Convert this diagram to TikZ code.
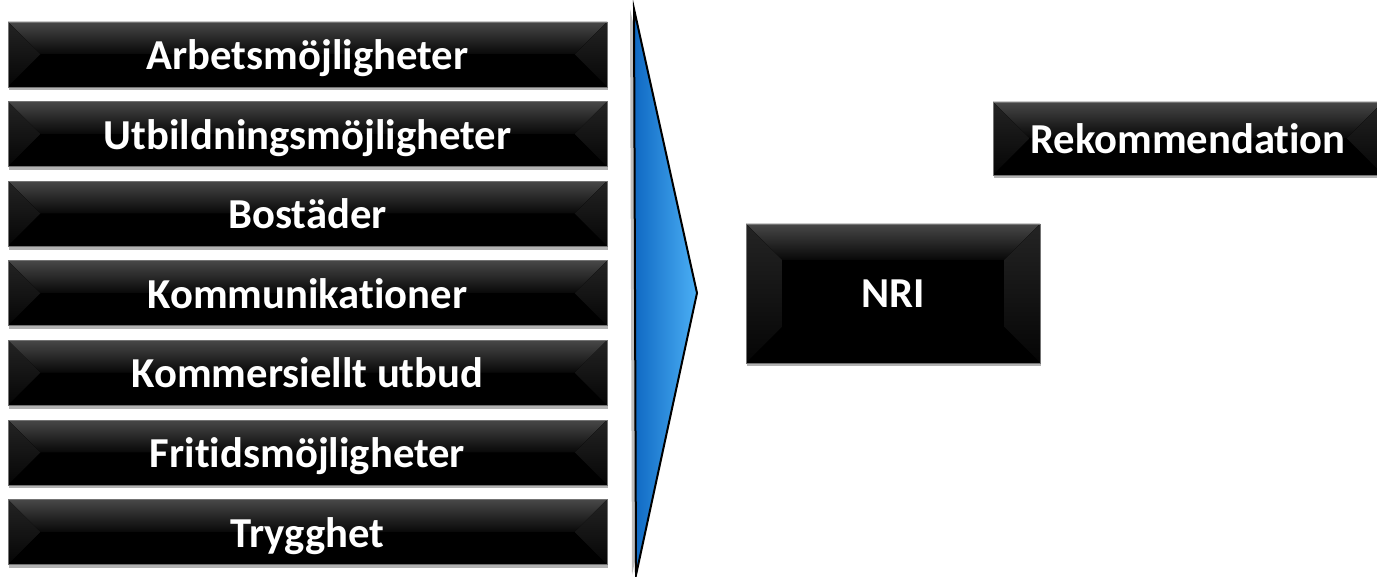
\documentclass[tikz,border=0pt]{standalone}
\usepackage{fontspec}
\setmainfont[Ligatures=NoCommon]{Carlito}
\usetikzlibrary{shadows}
\definecolor{chevdark}{RGB}{15,105,195}
\definecolor{chevlight}{RGB}{75,175,245}
\tikzset{
  bevelbox/.style n args={3}{
    rectangle, draw=black!55, line width=0.6pt, fill=black,
    minimum width=#1*0.75pt, minimum height=#2*0.75pt, inner sep=0pt,
    text depth=0pt,
    text=white, font=\bfseries\fontsize{32}{36}\selectfont,
    drop shadow={shadow xshift=0.8pt, shadow yshift=-2.5pt, opacity=0.3, fill=black},
    path picture={
      \path (path picture bounding box.north west) coordinate (pA)
            (path picture bounding box.north east) coordinate (pB)
            (path picture bounding box.south east) coordinate (pC)
            (path picture bounding box.south west) coordinate (pD);
      \fill[top color=black!72, bottom color=black!97]
        (pA) -- (pB) -- ([xshift=-#3*0.75pt,yshift=-#3*0.75pt]pB)
        -- ([xshift=#3*0.75pt,yshift=-#3*0.75pt]pA) -- cycle;
      \fill[top color=black!86, bottom color=black!98]
        (pA) -- ([xshift=#3*0.75pt,yshift=-#3*0.75pt]pA)
        -- ([xshift=#3*0.75pt,yshift=#3*0.75pt]pD) -- (pD) -- cycle;
      \fill[top color=black!86, bottom color=black!98]
        (pB) -- ([xshift=-#3*0.75pt,yshift=-#3*0.75pt]pB)
        -- ([xshift=-#3*0.75pt,yshift=#3*0.75pt]pC) -- (pC) -- cycle;
      \fill[black]
        (pD) -- (pC) -- ([xshift=-#3*0.75pt,yshift=#3*0.75pt]pC)
        -- ([xshift=#3*0.75pt,yshift=#3*0.75pt]pD) -- cycle;
      \fill[black] ([xshift=#3*0.75pt,yshift=-#3*0.75pt]pA)
        rectangle ([xshift=-#3*0.75pt,yshift=#3*0.75pt]pC);
    }
  },
  chevron/.style={draw=black, line width=1.5pt, line join=miter,
    left color=chevdark, right color=chevlight,
    drop shadow={shadow xshift=-3pt, shadow yshift=0pt, opacity=0.25, fill=black}}
}
\begin{document}
\begin{tikzpicture}[x=0.75pt,y=-0.75pt]
\fill[white] (0,0) rectangle (1377,577);
\clip (0,0) rectangle (1377,577);
\node[bevelbox={599}{65}{32.5}] (b1) at (307.5,54.5) {Arbetsmöjligheter};
\node[bevelbox={599}{65}{32.5}] (b2) at (307.5,134.1) {Utbildningsmöjligheter};
\node[bevelbox={599}{65}{32.5}] (b3) at (307.5,213.7) {Bostäder};
\node[bevelbox={599}{65}{32.5}] (b4) at (307.5,293.3) {Kommunikationer};
\node[bevelbox={599}{65}{32.5}] (b5) at (307.5,372.9) {Kommersiellt utbud};
\node[bevelbox={599}{65}{32.5}] (b6) at (307.5,452.5) {Fritidsmöjligheter};
\node[bevelbox={599}{65}{32.5}] (b7) at (307.5,532.1) {Trygghet};
\path[chevron] (634,9) -- (697,293) -- (636,575) -- cycle;
\node[bevelbox={294}{139}{36}] (nri) at (893,293.5) {NRI};
\node[bevelbox={390}{73}{36}] (rek) at (1188,138.5) {Rekommendation};
\end{tikzpicture}
\end{document}
